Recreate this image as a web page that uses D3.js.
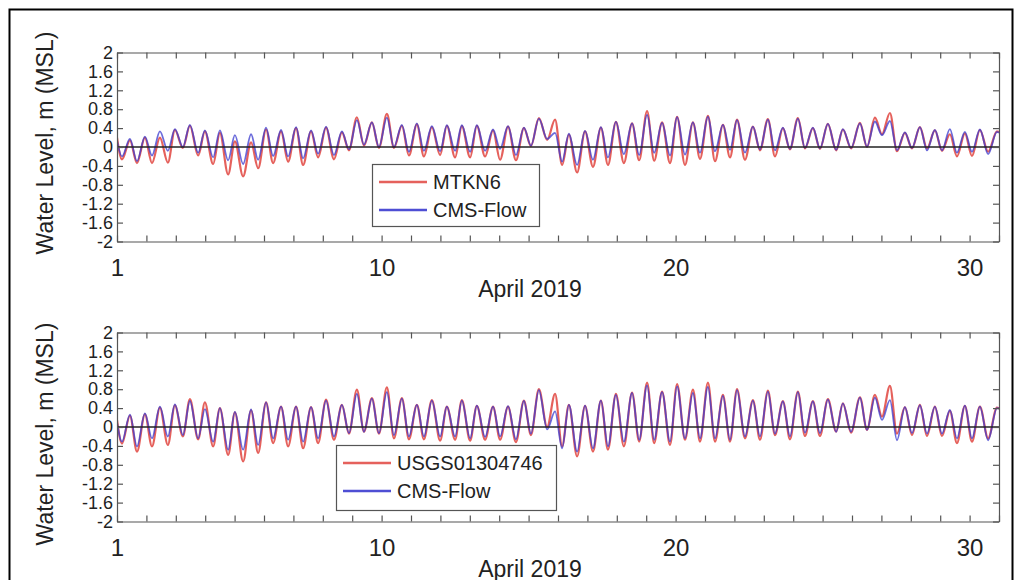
<!DOCTYPE html>
<html>
<head>
<meta charset="utf-8">
<script src="https://cdn.jsdelivr.net/npm/d3@7"></script>
<style>
  html, body { margin: 0; padding: 0; background: #fff; }
  svg { display: block; font-family: "Liberation Sans", Arial, sans-serif; }
</style>
</head>
<body>
<svg id="chart" width="1022" height="580"></svg>
<script>
// Times of successive high and low waters, April 2019 (day of month)
const extremaDay = [
  1.00, 1.17, 1.44, 1.68, 1.95, 2.19, 2.46, 2.73, 2.97, 3.24,
  3.48, 3.76, 3.99, 4.27, 4.50, 4.78, 5.01, 5.29, 5.56, 5.80,
  6.07, 6.31, 6.58, 6.82, 7.09, 7.33, 7.60, 7.84, 8.11, 8.38,
  8.65, 8.89, 9.16, 9.40, 9.67, 9.91, 10.18, 10.42, 10.69, 10.93,
  11.20, 11.44, 11.71, 11.99, 12.22, 12.50, 12.73, 13.01, 13.24, 13.52,
  13.79, 14.03, 14.30, 14.57, 14.84, 15.08, 15.35, 15.63, 15.90, 16.14,
  16.37, 16.65, 16.92, 17.19, 17.46, 17.70, 17.97, 18.24, 18.52, 18.76,
  19.03, 19.27, 19.54, 19.81, 20.05, 20.32, 20.59, 20.83, 21.10, 21.34,
  21.61, 21.85, 22.09, 22.36, 22.63, 22.87, 23.14, 23.38, 23.65, 23.89,
  24.16, 24.40, 24.67, 24.91, 25.18, 25.46, 25.69, 25.97, 26.27, 26.51,
  26.78, 27.02, 27.29, 27.53, 27.80, 28.04, 28.31, 28.55, 28.82, 29.06,
  29.33, 29.57, 29.84, 30.08, 30.35, 30.63, 30.93, 31.00
];

// Montauk (MTKN6) observed water level, m MSL
const mtkn6Observed = [
  0.20, -0.26, 0.14, -0.34, 0.20, -0.34, 0.20, -0.33, 0.36, -0.02,
  0.45, -0.18, 0.33, -0.36, 0.30, -0.58, 0.12, -0.62, 0.10, -0.45,
  0.37, -0.34, 0.33, -0.31, 0.40, -0.38, 0.33, -0.22, 0.41, -0.26,
  0.31, -0.07, 0.63, 0.03, 0.52, -0.02, 0.70, -0.02, 0.45, -0.18,
  0.48, -0.20, 0.42, -0.17, 0.45, -0.22, 0.44, -0.22, 0.45, -0.20,
  0.35, -0.27, 0.43, -0.28, 0.40, 0.02, 0.61, 0.15, 0.58, -0.38,
  0.26, -0.54, 0.33, -0.42, 0.41, -0.38, 0.53, -0.34, 0.50, -0.28,
  0.76, -0.29, 0.52, -0.34, 0.64, -0.38, 0.52, -0.25, 0.66, -0.30,
  0.47, -0.22, 0.58, -0.27, 0.43, -0.07, 0.59, -0.20, 0.40, -0.05,
  0.61, -0.03, 0.40, -0.04, 0.49, -0.07, 0.37, -0.03, 0.51, 0.00,
  0.62, 0.27, 0.72, -0.09, 0.30, -0.03, 0.42, -0.03, 0.35, -0.08,
  0.27, -0.20, 0.29, -0.19, 0.36, -0.10, 0.33, 0.32
];

// CMS-Flow modelled water level at MTKN6, m MSL
const mtkn6Model = [
  0.14, -0.20, 0.17, -0.30, 0.22, -0.18, 0.33, -0.08, 0.38, 0.00,
  0.47, -0.12, 0.35, -0.22, 0.35, -0.28, 0.25, -0.36, 0.27, -0.27,
  0.41, -0.19, 0.36, -0.20, 0.42, -0.24, 0.35, -0.14, 0.43, -0.17,
  0.33, -0.05, 0.57, 0.05, 0.52, 0.00, 0.62, 0.00, 0.47, -0.10,
  0.50, -0.08, 0.44, -0.09, 0.46, -0.08, 0.46, -0.10, 0.46, -0.08,
  0.37, -0.04, 0.44, -0.17, 0.41, 0.03, 0.60, 0.17, 0.30, -0.31,
  0.28, -0.38, 0.34, -0.27, 0.42, -0.22, 0.53, -0.15, 0.50, -0.17,
  0.68, -0.12, 0.51, -0.18, 0.63, -0.16, 0.52, -0.12, 0.64, -0.09,
  0.47, -0.06, 0.57, -0.12, 0.43, -0.05, 0.58, -0.07, 0.41, -0.04,
  0.60, -0.02, 0.41, -0.03, 0.49, -0.06, 0.38, -0.02, 0.50, 0.01,
  0.54, 0.25, 0.55, -0.07, 0.31, -0.02, 0.42, -0.07, 0.36, -0.07,
  0.38, -0.12, 0.32, -0.10, 0.37, -0.15, 0.32, 0.30
];

// USGS 01304746 observed water level, m MSL
const usgsObserved = [
  0.15, -0.35, 0.24, -0.52, 0.27, -0.41, 0.41, -0.38, 0.46, -0.20,
  0.59, -0.26, 0.52, -0.41, 0.40, -0.59, 0.31, -0.73, 0.35, -0.55,
  0.52, -0.34, 0.43, -0.41, 0.43, -0.45, 0.42, -0.34, 0.58, -0.27,
  0.47, -0.14, 0.79, -0.10, 0.61, -0.14, 0.84, -0.24, 0.61, -0.26,
  0.47, -0.26, 0.57, -0.29, 0.43, -0.27, 0.57, -0.29, 0.45, -0.27,
  0.43, -0.27, 0.43, -0.32, 0.56, -0.17, 0.80, 0.00, 0.70, -0.41,
  0.47, -0.62, 0.45, -0.52, 0.56, -0.48, 0.70, -0.41, 0.73, -0.31,
  0.94, -0.34, 0.75, -0.38, 0.91, -0.27, 0.79, -0.31, 0.94, -0.31,
  0.68, -0.31, 0.80, -0.24, 0.57, -0.27, 0.77, -0.17, 0.55, -0.26,
  0.75, -0.19, 0.55, -0.19, 0.59, -0.10, 0.50, -0.12, 0.63, -0.06,
  0.68, 0.22, 0.87, -0.14, 0.42, -0.17, 0.47, -0.19, 0.43, -0.19,
  0.34, -0.34, 0.45, -0.31, 0.43, -0.24, 0.41, 0.40
];

// CMS-Flow modelled water level at USGS 01304746, m MSL
const usgsModel = [
  0.10, -0.31, 0.26, -0.41, 0.29, -0.24, 0.43, -0.20, 0.48, -0.17,
  0.55, -0.24, 0.38, -0.31, 0.40, -0.48, 0.32, -0.48, 0.37, -0.38,
  0.52, -0.24, 0.43, -0.27, 0.43, -0.31, 0.42, -0.24, 0.56, -0.20,
  0.47, -0.13, 0.70, -0.10, 0.60, -0.13, 0.74, -0.17, 0.60, -0.20,
  0.47, -0.20, 0.56, -0.20, 0.43, -0.20, 0.56, -0.24, 0.45, -0.21,
  0.43, -0.20, 0.44, -0.26, 0.55, -0.14, 0.78, -0.05, 0.33, -0.45,
  0.47, -0.52, 0.45, -0.45, 0.56, -0.41, 0.68, -0.31, 0.72, -0.27,
  0.88, -0.27, 0.74, -0.31, 0.86, -0.24, 0.72, -0.24, 0.85, -0.24,
  0.66, -0.27, 0.78, -0.20, 0.56, -0.20, 0.75, -0.14, 0.54, -0.20,
  0.74, -0.12, 0.54, -0.13, 0.58, -0.10, 0.50, -0.10, 0.62, -0.06,
  0.62, 0.15, 0.57, -0.28, 0.42, -0.13, 0.46, -0.14, 0.43, -0.14,
  0.36, -0.24, 0.45, -0.24, 0.43, -0.28, 0.40, 0.39
];

// Axis ticks
const dayTicks = d3.range(1, 32);
const dayLabels = [1, 10, 20, 30];
const levelTicks = [-2, -1.6, -1.2, -0.8, -0.4, 0, 0.4, 0.8, 1.2, 1.6, 2];

const panels = [
  { station: "MTKN6", observed: mtkn6Observed, model: mtkn6Model,
    top: 52.5, legend: { x: 372, y: 164, w: 167, h: 62 }, ylabelCenter: 143 },
  { station: "USGS01304746", observed: usgsObserved, model: usgsModel,
    top: 332.5, legend: { x: 336, y: 445, w: 220, h: 65 }, ylabelCenter: 434 }
];

const svg = d3.select("#chart");
const plotLeft = 117, plotRight = 999, plotHeight = 189;
const redColor = "#e0453f", blueColor = "#3b3bcf";
const axisColor = "#555";

// Outer frame (its lower edge runs past the bottom of the page)
svg.append("rect").attr("x", 9.5).attr("y", 9.5)
  .attr("width", 1003).attr("height", 600)
  .attr("fill", "none").attr("stroke", "#000").attr("stroke-width", 2);

const x = d3.scaleLinear().domain([1, 31]).range([plotLeft, plotRight]);

panels.forEach((p, i) => {
  const y = d3.scaleLinear().domain([-2, 2]).range([p.top + plotHeight, p.top]);
  const g = svg.append("g");

  const clipId = "clip" + i;
  svg.append("clipPath").attr("id", clipId).append("rect")
    .attr("x", plotLeft).attr("y", p.top)
    .attr("width", plotRight - plotLeft).attr("height", plotHeight);

  const line = values => d3.line()
    .x((d, k) => x(extremaDay[k]))
    .y(d => y(d))
    .curve(d3.curveMonotoneX)(values);

  const curves = g.append("g").attr("clip-path", `url(#${clipId})`);
  curves.append("path").attr("d", line(p.observed))
    .attr("fill", "none").attr("stroke", redColor)
    .attr("stroke-width", 2.2).attr("stroke-opacity", 0.85);
  curves.append("path").attr("d", line(p.model))
    .attr("fill", "none").attr("stroke", blueColor)
    .attr("stroke-width", 1.8).attr("stroke-opacity", 0.75);

  // Zero reference line
  g.append("line")
    .attr("x1", plotLeft).attr("x2", plotRight)
    .attr("y1", y(0)).attr("y2", y(0))
    .attr("stroke", "#222").attr("stroke-width", 1.3);

  // Axes with inward ticks on all four sides
  const styleAxis = sel => {
    sel.selectAll(".domain").attr("stroke", axisColor).attr("stroke-width", 1.2);
    sel.selectAll(".tick line").attr("stroke", axisColor).attr("stroke-width", 1.2);
    sel.selectAll("text").attr("fill", "#222")
      .style("font-family", '"Liberation Sans", Arial, sans-serif');
  };

  g.append("g").attr("transform", `translate(0,${p.top + plotHeight})`)
    .call(d3.axisBottom(x).tickValues(dayTicks).tickSize(-6).tickSizeOuter(0).tickPadding(17)
      .tickFormat(d => dayLabels.includes(d) ? String(d) : ""))
    .call(styleAxis)
    .selectAll("text").style("font-size", "24px");

  g.append("g").attr("transform", `translate(0,${p.top})`)
    .call(d3.axisTop(x).tickValues(dayTicks).tickSize(-6).tickSizeOuter(0).tickFormat(""))
    .call(styleAxis);

  // Tick labels use a plain hyphen for negative values
  g.append("g").attr("transform", `translate(${plotLeft},0)`)
    .call(d3.axisLeft(y).tickValues(levelTicks).tickSize(-6).tickSizeOuter(0).tickPadding(4)
      .tickFormat(d => String(d)))
    .call(styleAxis)
    .selectAll("text").style("font-size", "18px");

  g.append("g").attr("transform", `translate(${plotRight},0)`)
    .call(d3.axisRight(y).tickValues(levelTicks).tickSize(-6).tickSizeOuter(0).tickFormat(""))
    .call(styleAxis);

  // Axis titles
  g.append("text")
    .attr("transform", `translate(53,${p.ylabelCenter}) rotate(-90)`)
    .attr("text-anchor", "middle")
    .attr("fill", "#222").style("font-size", "23px")
    .text("Water Level, m (MSL)");

  g.append("text")
    .attr("x", 530).attr("y", p.top + plotHeight + 55)
    .attr("text-anchor", "middle")
    .attr("fill", "#222").style("font-size", "23px")
    .text("April 2019");

  // Legend
  const L = p.legend;
  const lg = g.append("g").attr("transform", `translate(${L.x},${L.y})`);
  lg.append("rect").attr("x", 0.5).attr("y", 0.5).attr("width", L.w).attr("height", L.h)
    .attr("fill", "#fff").attr("stroke", axisColor).attr("stroke-width", 1.2);
  const entries = [
    { label: p.station, color: redColor, w: 2.6, op: 0.85 },
    { label: "CMS-Flow", color: blueColor, w: 2.6, op: 0.9 }
  ];
  entries.forEach((e, k) => {
    const cy = 18 + k * 28;
    lg.append("line").attr("x1", 7).attr("x2", 55).attr("y1", cy).attr("y2", cy)
      .attr("stroke", e.color).attr("stroke-width", e.w).attr("stroke-opacity", e.op);
    lg.append("text").attr("x", 61).attr("y", cy + 7)
      .attr("fill", "#222").style("font-size", "20px")
      .text(e.label);
  });
});
</script>
</body>
</html>
